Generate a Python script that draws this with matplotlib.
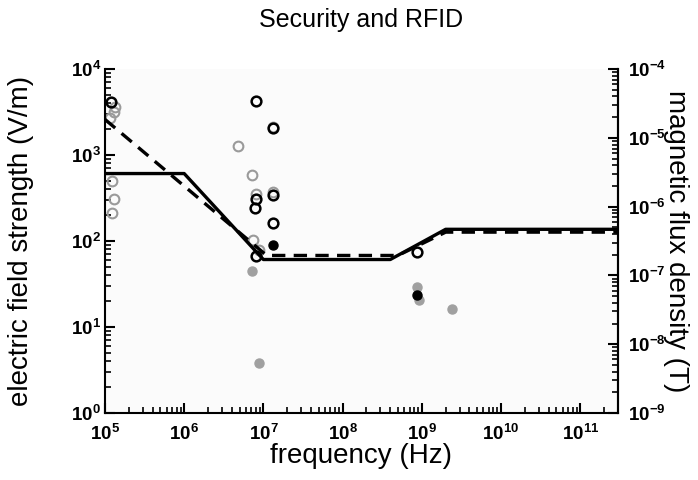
import math
import matplotlib
matplotlib.use("Agg")
import matplotlib.pyplot as plt
from matplotlib.ticker import LogLocator, FuncFormatter, NullFormatter

plt.rcParams['font.family'] = ['Liberation Sans', 'DejaVu Sans']
plt.rcParams['mathtext.fontset'] = 'custom'
plt.rcParams['mathtext.rm'] = 'Liberation Sans:bold'
plt.rcParams['mathtext.bf'] = 'Liberation Sans:bold'

# limits (E field, V/m)
solid_f = [1e5, 1e6, 1e7, 4e8, 2e9, 3e11]
solid_E = [610, 610, 61, 61, 137, 137]
dashed_f = [1e5, 1.1e7, 5e8, 2e9, 3e11]
dashed_E = [2600, 68, 68, 127, 127]

# measurements
gray_open_f = [1.34e5, 1.30e5, 1.16e5, 1.21e5, 1.31e5, 1.24e5, 4.8e6, 7.2e6, 7.95e6, 1.32e7, 1.32e7, 7.4e6, 8.8e6]
gray_open_E = [3650, 3140, 2690, 500, 308, 213, 1283, 585, 349, 2150, 374, 104, 78]
black_open_f = [1.18e5, 7.95e6, 1.32e7, 7.95e6, 7.9e6, 1.32e7, 1.32e7, 7.95e6, 8.7e8]
black_open_E = [4130, 4270, 2080, 305, 244, 340, 163, 67, 75]
gray_fill_f = [7.2e6, 8.8e6, 8.8e8, 9.1e8, 2.4e9]
gray_fill_E = [45, 3.85, 29, 20.6, 16]
black_fill_f = [1.32e7, 8.6e8]
black_fill_E = [90.6, 23.6]

fig = plt.figure(figsize=(6.98, 4.80), dpi=100)
ax = fig.add_axes([0.1504, 0.1396, 0.735, 0.7164])
ax.set_facecolor('#fbfbfb')
ax.set_xscale('log')
ax.set_yscale('log')
ax.set_xlim(1e5, 3e11)
ax.set_ylim(1, 1e4)

ax.plot(gray_open_f, gray_open_E, 'o', ms=7, mfc='none', mec='#9a9a9a', mew=1.5, zorder=2)
ax.plot(black_open_f, black_open_E, 'o', ms=7, mfc='none', mec='black', mew=1.8, zorder=3)
ax.plot(gray_fill_f, gray_fill_E, 'o', ms=6.5, color='#a0a0a0', zorder=2)
ax.plot(black_fill_f, black_fill_E, 'o', ms=6.5, color='black', zorder=3)
ax.plot(solid_f, solid_E, '-', color='black', lw=2.4, zorder=4)
ax.plot(dashed_f, dashed_E, '--', color='black', lw=2.4, dashes=(4, 2.5), zorder=4)

def sci(v, pos):
    e = int(round(math.log10(v)))
    return r'$\mathbf{10^{%d}}$' % e

ax.spines['top'].set_visible(False)
for s in ['left', 'bottom', 'right']:
    ax.spines[s].set_linewidth(1.5)

ax.xaxis.set_major_locator(LogLocator(base=10, numticks=20))
ax.xaxis.set_minor_locator(LogLocator(base=10, subs=range(2, 10), numticks=20))
ax.xaxis.set_major_formatter(FuncFormatter(sci))
ax.xaxis.set_minor_formatter(NullFormatter())
ax.yaxis.set_major_formatter(FuncFormatter(sci))
ax.yaxis.set_minor_formatter(NullFormatter())
ax.tick_params(which='major', direction='in', length=7, width=1.5, labelsize=13.5, pad=3)
ax.tick_params(which='minor', direction='in', length=4, width=1.2)
ax.tick_params(axis='x', which='major', pad=8)
ax.tick_params(right=False, top=False)

ax2 = ax.twinx()
ax2.set_yscale('log')
ax2.set_ylim(1e-9, 1e-4)
ax2.yaxis.set_major_formatter(FuncFormatter(sci))
ax2.yaxis.set_minor_formatter(NullFormatter())
ax2.tick_params(which='major', direction='in', length=7, width=1.5, labelsize=13.5, pad=7)
ax2.tick_params(which='minor', direction='in', length=4, width=1.2)
for s in ['top', 'left', 'bottom']:
    ax2.spines[s].set_visible(False)
ax2.spines['right'].set_linewidth(1.5)

ax.set_title('Security and RFID', fontsize=18, pad=30)
ax.set_xlabel('frequency (Hz)', fontsize=20, va='center')
ax.xaxis.set_label_coords(0.5, -0.125)
ax.set_ylabel('electric field strength (V/m)', fontsize=20, va='center')
ax.yaxis.set_label_coords(-0.164, 0.5)
ax2.set_ylabel('magnetic flux density (T)', fontsize=20, rotation=270, va='center', ha='center')
ax2.yaxis.set_label_coords(1.114, 0.5)

fig.savefig('out.png', dpi=100)
